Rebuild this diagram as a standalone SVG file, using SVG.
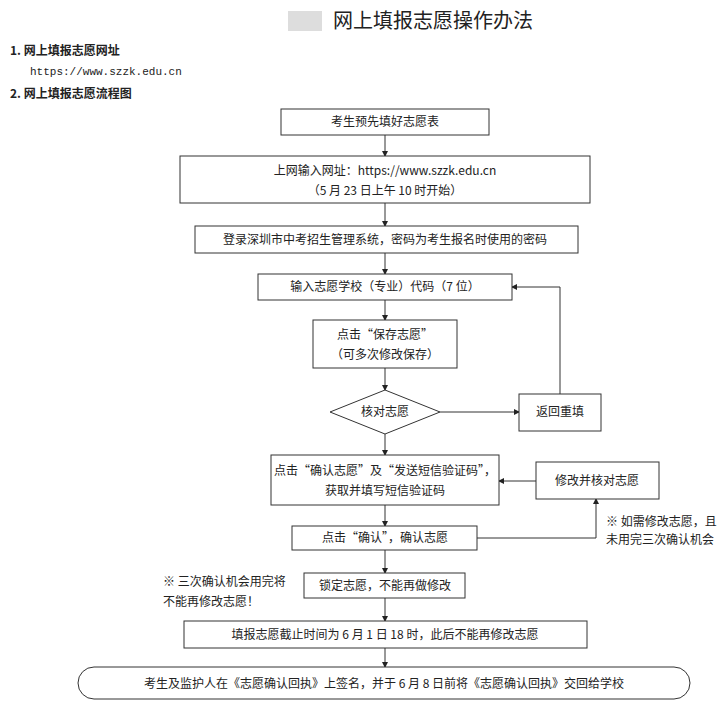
<svg xmlns="http://www.w3.org/2000/svg" width="723" height="703" viewBox="0 0 723 703">
<style>
.b{fill:#fff;stroke:#333;stroke-width:1}
.t{font-family:"Noto Sans CJK SC","Liberation Serif",serif;font-size:12px;fill:#222;text-anchor:middle}
.n{font-family:"Noto Sans CJK SC",serif;font-size:12px;fill:#222}
.c{stroke:#333;stroke-width:1;fill:none;marker-end:url(#a)}
</style>
<defs><marker id="a" markerWidth="6" markerHeight="6" refX="5" refY="3" orient="auto" markerUnits="userSpaceOnUse"><path d="M0,0L6,3L0,6z" fill="#222"/></marker></defs>
<rect width="723" height="703" fill="#fff"/>
<rect x="288" y="11" width="34" height="20" fill="#ddd"/>
<text x="333" y="28" font-family="Noto Sans CJK SC,serif" font-size="20" fill="#222">网上填报志愿操作办法</text>
<text x="10" y="55" class="n" font-weight="bold" font-size="13">1. 网上填报志愿网址</text>
<text x="30" y="75" font-family="Liberation Mono,monospace" font-size="11" fill="#222">https://www.szzk.edu.cn</text>
<text x="10" y="98" class="n" font-weight="bold" font-size="13">2. 网上填报志愿流程图</text>
<g id="connectors">
<path class="c" d="M385,135V156"/><path class="c" d="M385,203V226"/><path class="c" d="M385,253V274"/>
<path class="c" d="M385,300V320"/><path class="c" d="M385,368V390"/><path class="c" d="M385,434V455"/>
<path class="c" d="M385,505V526"/><path class="c" d="M385,550V573"/><path class="c" d="M385,598V621"/><path class="c" d="M385,648V667"/>
<path class="c" d="M440,412H519"/><path class="c" d="M560,394V287H512"/>
<path class="c" d="M536,481H499"/><path class="c" d="M477,538H596V499"/>
</g>
<g id="n1"><rect class="b" x="281" y="109" width="208" height="26"/><text class="t" x="385" y="126">考生预先填好志愿表</text></g>
<g id="n2"><rect class="b" x="180" y="156" width="410" height="47"/><text class="t" x="385" y="175">上网输入网址：https://www.szzk.edu.cn</text><text class="t" x="385" y="195">（5 月 23 日上午 10 时开始）</text></g>
<g id="n3"><rect class="b" x="195" y="226" width="383" height="27"/><text class="t" x="385" y="244">登录深圳市中考招生管理系统，密码为考生报名时使用的密码</text></g>
<g id="n4"><rect class="b" x="258" y="274" width="254" height="26"/><text class="t" x="385" y="291">输入志愿学校（专业）代码（7 位）</text></g>
<g id="n5"><rect class="b" x="313" y="320" width="144" height="48"/><text class="t" x="385" y="339">点击“保存志愿”</text><text class="t" x="385" y="359">（可多次修改保存）</text></g>
<g id="n6"><path class="b" d="M330,412L385,390L440,412L385,434z"/><text class="t" x="385" y="416">核对志愿</text></g>
<g id="n7"><rect class="b" x="519" y="394" width="82" height="37"/><text class="t" x="560" y="416">返回重填</text></g>
<g id="n8"><rect class="b" x="271" y="455" width="228" height="50"/><text class="t" x="385" y="475">点击“确认志愿”及“发送短信验证码”，</text><text class="t" x="385" y="495">获取并填写短信验证码</text></g>
<g id="n9"><rect class="b" x="536" y="462" width="123" height="37"/><text class="t" x="597" y="485">修改并核对志愿</text></g>
<g id="n10"><rect class="b" x="292" y="526" width="185" height="24"/><text class="t" x="385" y="542">点击“确认”，确认志愿</text></g>
<text class="n" x="606" y="526">※ 如需修改志愿，且</text><text class="n" x="606" y="544">未用完三次确认机会</text>
<g id="n11"><rect class="b" x="304" y="573" width="161" height="25"/><text class="t" x="385" y="590">锁定志愿，不能再做修改</text></g>
<text class="n" x="163" y="586">※ 三次确认机会用完将</text><text class="n" x="163" y="606">不能再修改志愿！</text>
<g id="n12"><rect class="b" x="184" y="621" width="403" height="27"/><text class="t" x="385" y="639">填报志愿截止时间为 6 月 1 日 18 时，此后不能再修改志愿</text></g>
<g id="n13"><rect class="b" x="78" y="667" width="612" height="32" rx="16"/><text class="t" x="384" y="688">考生及监护人在《志愿确认回执》上签名，并于 6 月 8 日前将《志愿确认回执》交回给学校</text></g>
</svg>
